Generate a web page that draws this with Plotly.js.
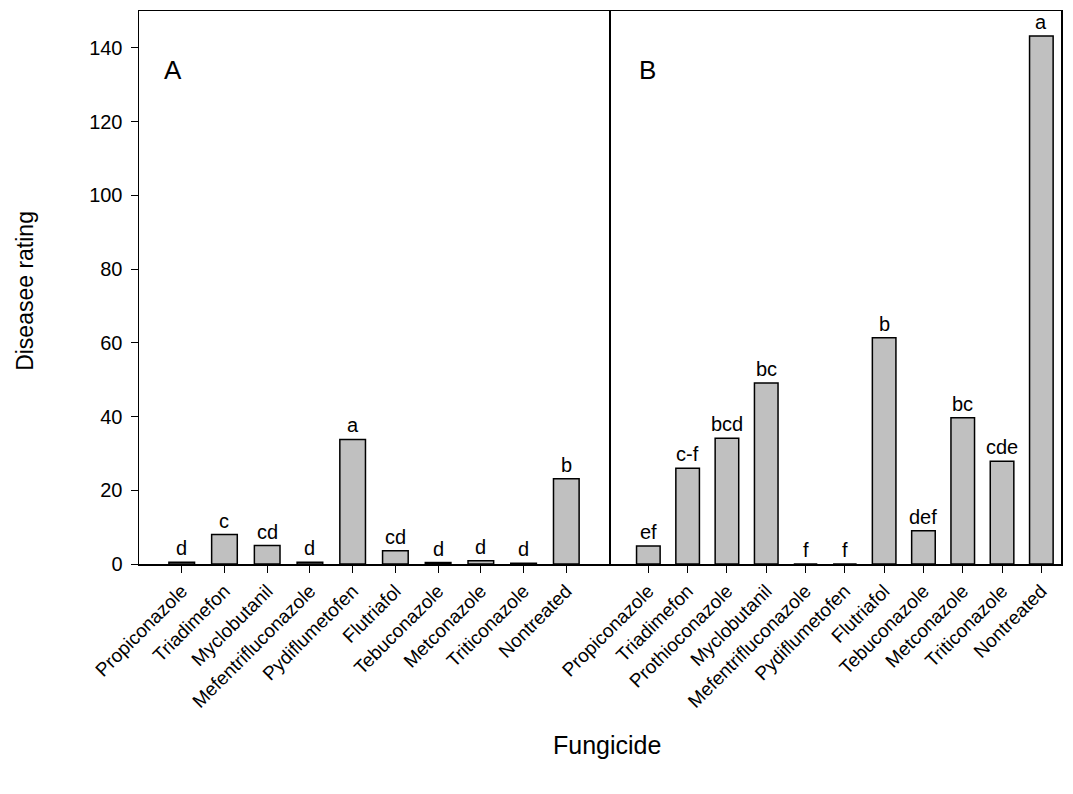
<!DOCTYPE html>
<html>
<head>
<meta charset="utf-8">
<script src="https://cdn.plot.ly/plotly-3.0.1.min.js"></script>
<style>html,body{margin:0;padding:0;background:#fff;}#chart{width:1073px;height:794px;}</style>
</head>
<body>
<div id="chart"></div>
<script>
const categoriesA = ["Propiconazole","Triadimefon","Myclobutanil","Mefentrifluconazole","Pydiflumetofen","Flutriafol","Tebuconazole","Metconazole","Triticonazole","Nontreated"];
const valuesA = [0.5, 8.0, 5.0, 0.5, 33.8, 3.6, 0.4, 0.9, 0.2, 23.1];
const lettersA = ["d","c","cd","d","a","cd","d","d","d","b"];

const categoriesB = ["Propiconazole","Triadimefon","Prothioconazole","Myclobutanil","Mefentrifluconazole","Pydiflumetofen","Flutriafol","Tebuconazole","Metconazole","Triticonazole","Nontreated"];
const valuesB = [4.9, 26.0, 34.1, 49.1, 0, 0, 61.4, 9.0, 39.7, 27.9, 143.2];
const lettersB = ["ef","c-f","bcd","bc","f","f","b","def","bc","cde","a"];

const FONT = "Liberation Sans, Arial, sans-serif";
const barStyle = {color: "#c0c0c0", line: {color: "#000", width: 1.5}};

const traces = [
  {type: "bar", x: categoriesA, y: valuesA, xaxis: "x", yaxis: "y", width: 0.6, marker: barStyle, hoverinfo: "x+y"},
  {type: "bar", x: categoriesB, y: valuesB, xaxis: "x2", yaxis: "y2", width: 0.6, marker: barStyle, hoverinfo: "x+y"}
];

const annotations = [];
categoriesA.forEach((c, i) => annotations.push({xref: "x", yref: "y", x: c, y: valuesA[i], text: lettersA[i], showarrow: false, yanchor: "bottom", yshift: 1, font: {family: FONT, size: 20, color: "#000"}}));
categoriesB.forEach((c, i) => annotations.push({xref: "x2", yref: "y2", x: c, y: valuesB[i], text: lettersB[i], showarrow: false, yanchor: "bottom", yshift: 1, font: {family: FONT, size: 20, color: "#000"}}));
annotations.push({xref: "paper", yref: "paper", x: 0.037, y: 0.893, text: "A", showarrow: false, xanchor: "center", yanchor: "middle", font: {family: FONT, size: 26, color: "#000"}});
annotations.push({xref: "paper", yref: "paper", x: 0.551, y: 0.893, text: "B", showarrow: false, xanchor: "center", yanchor: "middle", font: {family: FONT, size: 26, color: "#000"}});
annotations.push({xref: "paper", yref: "paper", x: -0.1236, y: 0.494, text: "Diseasee rating", textangle: -90, showarrow: false, xanchor: "center", yanchor: "middle", font: {family: FONT, size: 23, color: "#000"}});
annotations.push({xref: "paper", yref: "paper", x: 0.508, y: -0.328, text: "Fungicide", showarrow: false, xanchor: "center", yanchor: "middle", font: {family: FONT, size: 25, color: "#000"}});

const split = 0.5098;
const axisCommon = {showgrid: false, zeroline: false, showline: true, linecolor: "#000", linewidth: 1.5};

const layout = {
  width: 1073, height: 794,
  margin: {l: 139, r: 12, t: 11, b: 230},
  paper_bgcolor: "#fff", plot_bgcolor: "#fff",
  showlegend: false,
  font: {family: FONT, size: 19, color: "#000"},
  xaxis: Object.assign({}, axisCommon, {mirror: true, domain: [0, split], range: [-1, 10], ticks: "outside", ticklen: 7, tickwidth: 1, tickcolor: "#000", tickangle: -45, tickfont: {family: FONT, size: 19}}),
  yaxis: Object.assign({}, axisCommon, {mirror: true, domain: [0, 1], range: [0, 150], ticks: "outside", ticklen: 7, tickwidth: 1, tickcolor: "#000", tickvals: [0,20,40,60,80,100,120,140], ticklabelstandoff: 4, tickfont: {family: FONT, size: 20}}),
  xaxis2: Object.assign({}, axisCommon, {mirror: true, domain: [split, 1], range: [-1, 10.5], anchor: "y2", ticks: "outside", ticklen: 7, tickwidth: 1, tickcolor: "#000", tickangle: -45, tickfont: {family: FONT, size: 19}}),
  yaxis2: Object.assign({}, axisCommon, {mirror: false, side: "right", domain: [0, 1], range: [0, 150], anchor: "x2", ticks: "", showticklabels: false}),
  annotations: annotations,
  bargap: 0.4
};

Plotly.newPlot("chart", traces, layout, {staticPlot: true, displayModeBar: false});
</script>
</body>
</html>
